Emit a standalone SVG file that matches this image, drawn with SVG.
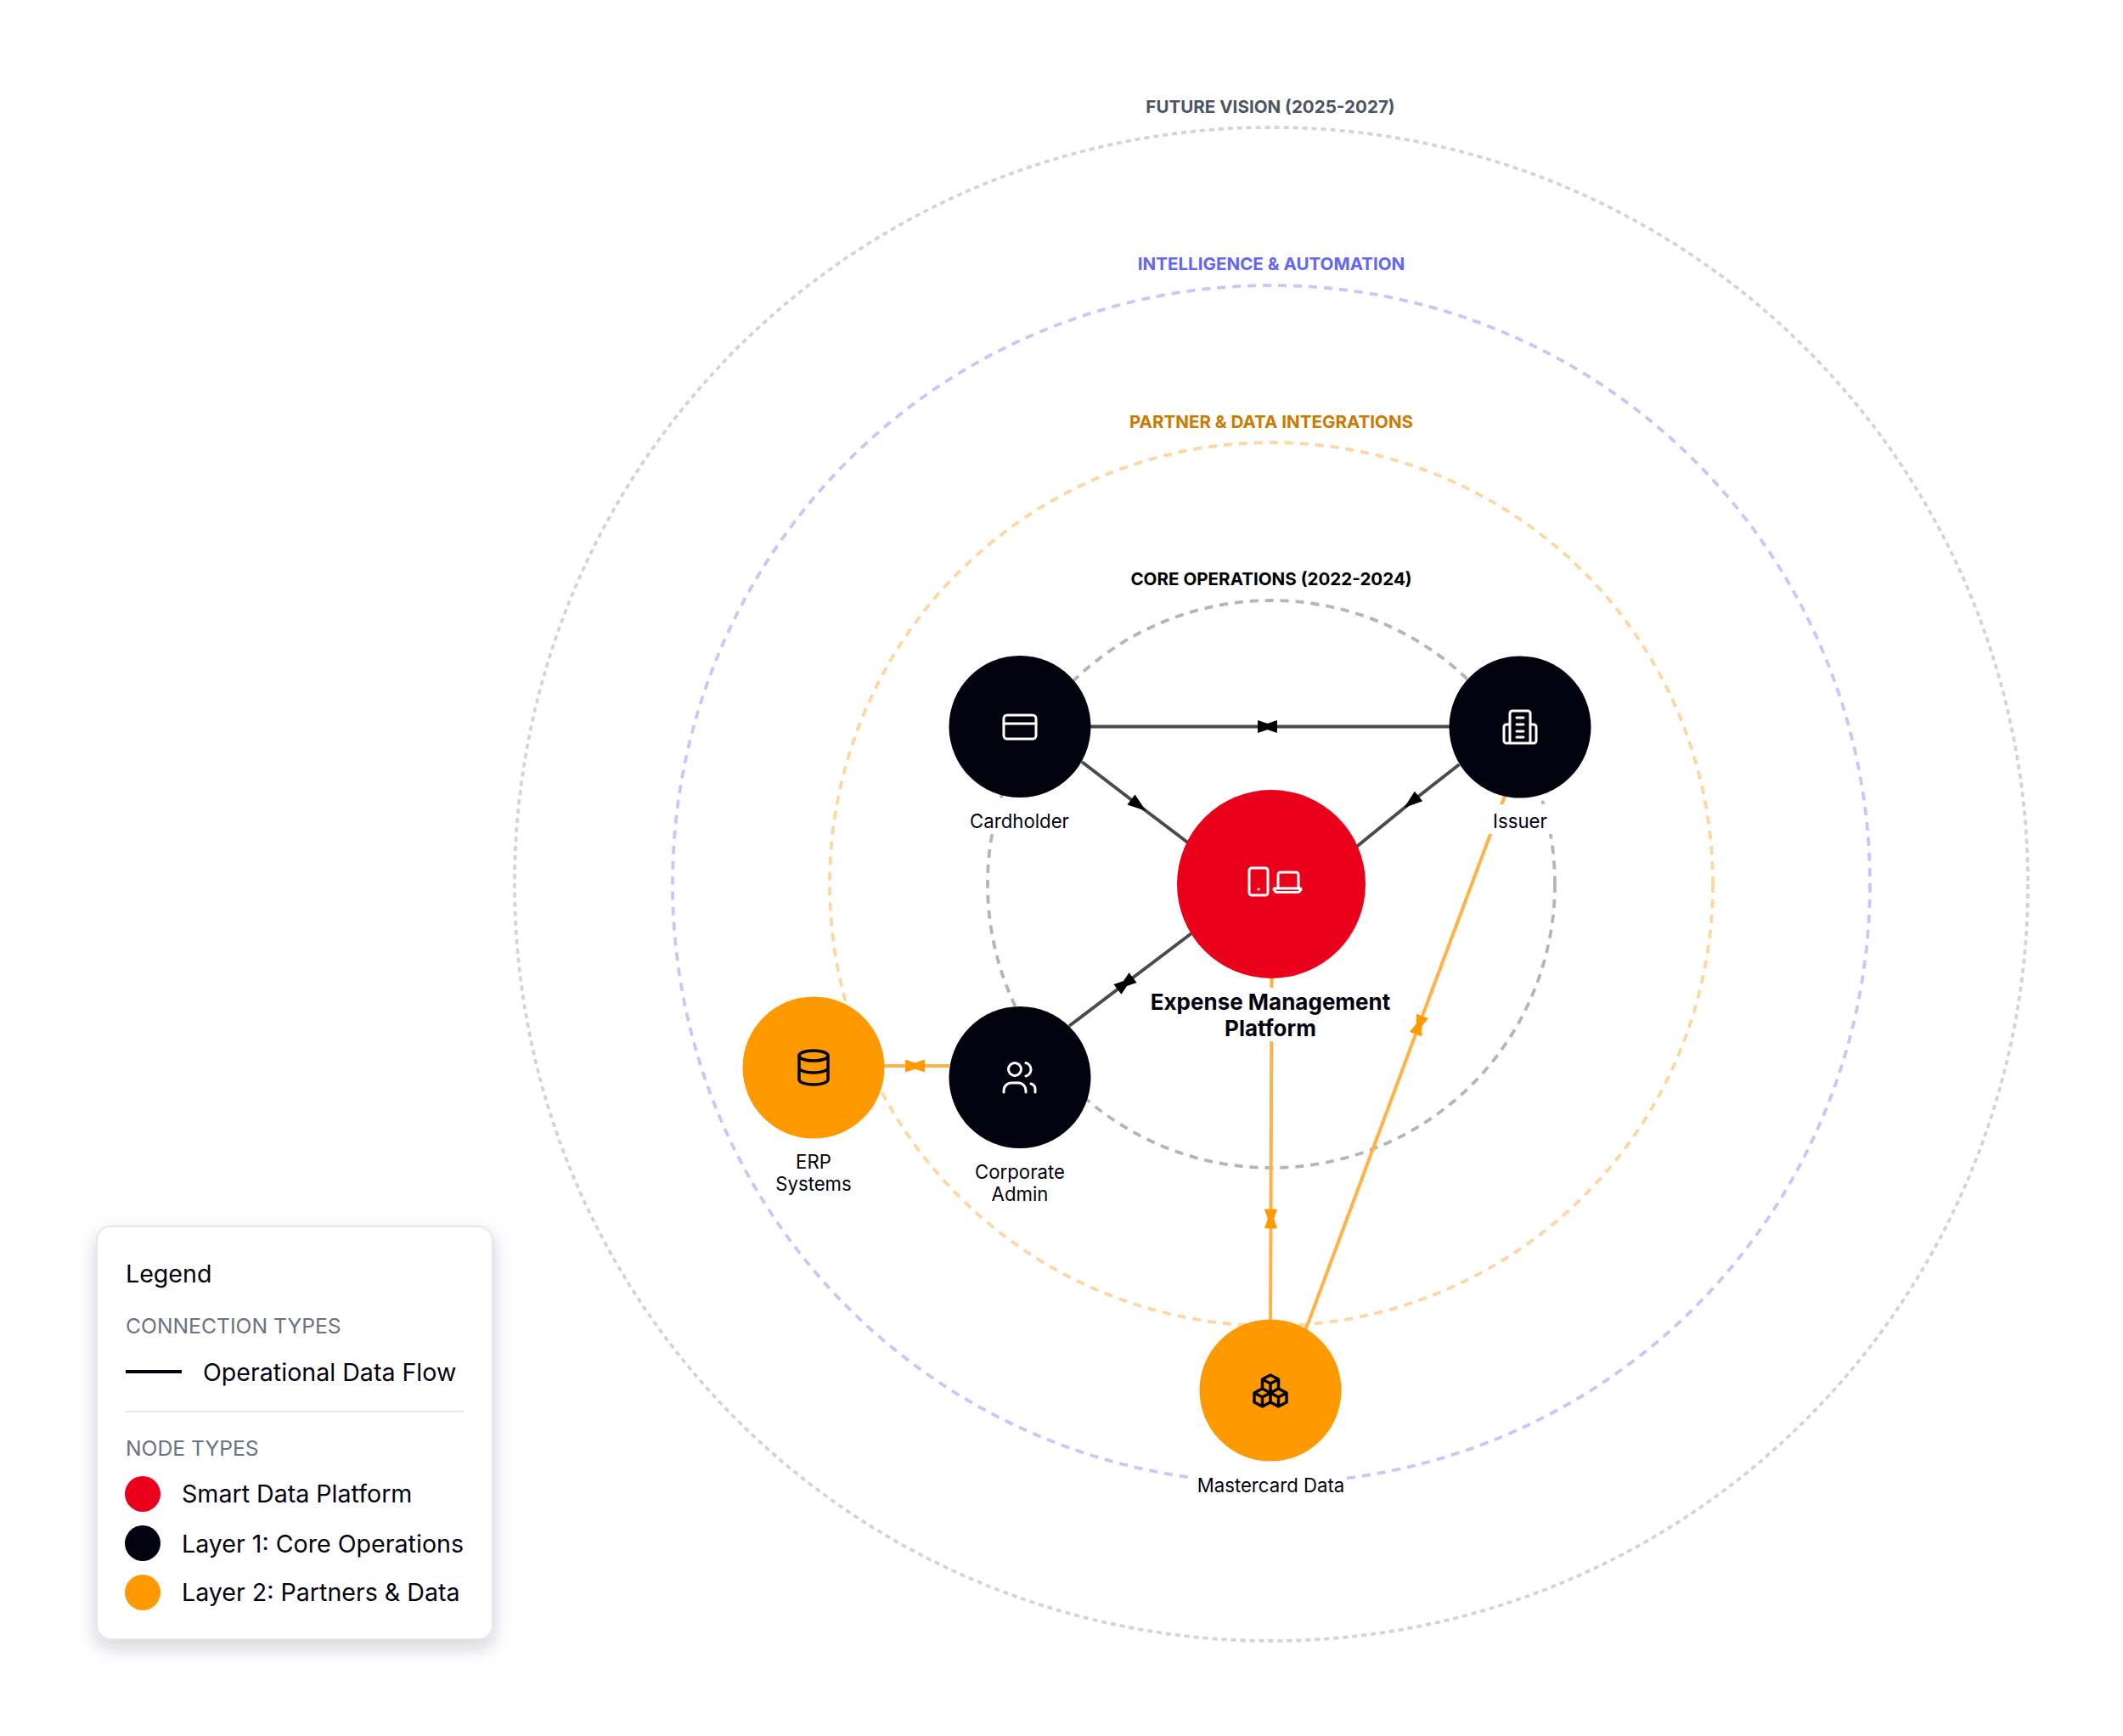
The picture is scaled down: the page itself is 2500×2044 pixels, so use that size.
<svg xmlns="http://www.w3.org/2000/svg" width="2500" height="2044" viewBox="0 0 2500 2044">
<style>
text{font-family:Inter,"Liberation Sans",sans-serif;fill:#02020f}
.ring{fill:none;stroke-width:3.800}
.rl{font-size:20.600px;font-weight:700;text-anchor:middle}
.nl{font-size:22.200px;text-anchor:middle}
.cl{font-size:26px;font-weight:700;text-anchor:middle}
.bg{fill:#fff}
.dk{fill:#02020f}.rd{fill:#eb001b}.or{fill:#ff9900}
.ln{fill:none;stroke-width:4}
.g{stroke:#4a4a4f}.o{stroke:#ffb347}
.iw{fill:none;stroke:#fff;stroke-width:3;stroke-linecap:round;stroke-linejoin:round}
.ik{fill:none;stroke:#02020f;stroke-width:3.500;stroke-linecap:round;stroke-linejoin:round}
.lt{font-size:28.600px}.lh{font-size:24.700px;fill:#6b7280}
</style>
<defs>
<filter id="sh" x="-15%" y="-15%" width="130%" height="130%"><feDropShadow dx="0" dy="9" stdDeviation="10" flood-color="#1e2340" flood-opacity="0.2"/></filter>
<marker id="ad" markerUnits="userSpaceOnUse" markerWidth="26" markerHeight="20" refX="2" refY="10" orient="auto"><path d="M2 2.500 24 10 2 17.500Z" fill="#000"/></marker>
<marker id="bd" markerUnits="userSpaceOnUse" markerWidth="26" markerHeight="20" refX="13" refY="10" orient="auto"><path d="M1.600 2.500 23.600 10 1.600 17.500ZM24.400 2.500 24.400 17.500 2.400 10Z" fill="#000"/></marker>
<marker id="bo" markerUnits="userSpaceOnUse" markerWidth="26" markerHeight="20" refX="13" refY="10" orient="auto"><path d="M1.600 2.500 23.600 10 1.600 17.500ZM24.400 2.500 24.400 17.500 2.400 10Z" fill="#ff9900"/></marker>
</defs>
<rect width="2500" height="2044" fill="#fff"/>
<g id="rings">
<circle class="ring" cx="1497" cy="1041" r="891" stroke="#d1d5db" stroke-dasharray="6 5"/>
<circle class="ring" cx="1497" cy="1041" r="705" stroke="#c7c7fa" stroke-dasharray="10 8"/>
<circle class="ring" cx="1497" cy="1041" r="520" stroke="#fed7a0" stroke-dasharray="10 8"/>
<circle class="ring" cx="1497" cy="1041" r="334" stroke="#b4b4ba" stroke-dasharray="10 8"/>
<text class="rl" x="1496" y="133" style="fill:#4b5563">FUTURE VISION (2025-2027)</text>
<text class="rl" x="1497" y="318" style="fill:#6366f1">INTELLIGENCE &amp; AUTOMATION</text>
<text class="rl" x="1497" y="504" style="fill:#cc7a00">PARTNER &amp; DATA INTEGRATIONS</text>
<text class="rl" x="1497" y="689" style="fill:#000">CORE OPERATIONS (2022-2024)</text>
</g>
<g id="connectors">
<polyline class="ln g" points="1284,855.500 1492.500,855.500 1707,855.500" marker-mid="url(#bd)"/>
<polyline class="ln g" points="1274,897 1332,941.500 1404,996" marker-mid="url(#ad)"/>
<polyline class="ln g" points="1718.500,900 1670.500,937.500 1590,1003" marker-mid="url(#ad)"/>
<polyline class="ln g" points="1403,1099 1325,1158 1259,1208" marker-mid="url(#bd)"/>
<polyline class="ln o" points="1041,1255 1077.500,1255 1118,1255" marker-mid="url(#bo)"/>
<polyline class="ln o" points="1497.500,1150 1496.500,1435 1496,1556" marker-mid="url(#bo)"/>
<polyline class="ln o" points="1772,937 1671,1207 1537,1567" marker-mid="url(#bo)"/>
</g>
<g id="node-platform">
<circle class="rd" cx="1497" cy="1041" r="111"/>
<g class="iw"><rect x="1471" y="1022" width="22" height="32" rx="3"/><path d="M1482 1047h.1"/><path d="M1505 1045v-15a3 3 0 0 1 3-3h18a3 3 0 0 1 3 3v15M1501 1046h30a1 1 0 0 1 0 2 3 3 0 0 1-3 2.500h-24a3 3 0 0 1-3-2.500 1 1 0 0 1 0-2Z"/></g>
<rect class="bg" x="1352" y="1163" width="290" height="63"/>
<text class="cl" x="1496" y="1189">Expense Management</text>
<text class="cl" x="1496" y="1220">Platform</text>
</g>
<g id="node-cardholder">
<circle class="dk" cx="1201" cy="855.500" r="83.500"/>
<g class="iw"><rect x="1182" y="842" width="38" height="28" rx="4"/><path d="M1182 852h38"/></g>
<rect class="bg" x="1137" y="947" width="128" height="35"/>
<text class="nl" x="1200.500" y="974.500">Cardholder</text>
</g>
<g id="node-issuer">
<circle class="dk" cx="1790" cy="856" r="83.500"/>
<g class="iw"><path d="M1778 875v-35a3 3 0 0 1 3-3h18a3 3 0 0 1 3 3v35M1778 853h-4a3 3 0 0 0-3 3v16a3 3 0 0 0 3 3h32a3 3 0 0 0 3-3v-16a3 3 0 0 0-3-3h-4M1786 845h8M1786 853h8M1786 861h8M1786 868h8"/></g>
<rect class="bg" x="1752" y="947" width="76" height="35"/>
<text class="nl" x="1790" y="974.500">Issuer</text>
</g>
<g id="node-admin">
<circle class="dk" cx="1201" cy="1268.500" r="83.500"/>
<g class="iw"><circle cx="1195" cy="1259" r="7.500"/><path d="M1208 1251.500a8 8 0 0 1 0 15.500M1182 1286v-2a9 9 0 0 1 9-9h9a9 9 0 0 1 8 9v2M1214 1276a7 7 0 0 1 5 7v3"/></g>
<rect class="bg" x="1145" y="1365" width="112" height="60"/>
<text class="nl" x="1201" y="1388">Corporate</text>
<text class="nl" x="1201" y="1414">Admin</text>
</g>
<g id="node-erp">
<circle class="or" cx="958" cy="1257" r="83.500"/>
<g class="ik"><ellipse cx="958" cy="1243" rx="17" ry="6"/><path d="M941 1243v28c0 3.500 8 6 17 6s17-2.500 17-6v-28M941 1257c0 3.500 8 6 17 6s17-2.500 17-6"/></g>
<rect class="bg" x="910" y="1353" width="96" height="60"/>
<text class="nl" x="958" y="1376">ERP</text>
<text class="nl" x="958" y="1402">Systems</text>
</g>
<g id="node-mastercard">
<circle class="or" cx="1496" cy="1637" r="83.500"/>
<g class="ik"><path d="M1496 1619l9.500 5v11l-9.500 5-9.500-5v-11ZM1486.500 1624l9.500 5 9.500-5M1496 1629v11M1486.500 1635l9.500 5v11l-9.500 5-9.500-5v-11ZM1477 1640l9.500 5 9.500-5M1486.500 1645v11M1505.500 1635l9.500 5v11l-9.500 5-9.500-5M1496 1640l9.500 5 9.500-5M1505.500 1645v11"/></g>
<rect class="bg" x="1400" y="1730" width="186" height="36"/>
<text class="nl" x="1496.500" y="1756.500">Mastercard Data</text>
</g>
<g id="legend">
<rect x="114" y="1444" width="466" height="486" rx="16" fill="#fff" stroke="#e5e7eb" stroke-width="2" filter="url(#sh)"/>
<text class="lt" x="148" y="1510">Legend</text>
<text class="lh" x="148" y="1570">CONNECTION TYPES</text>
<path d="M148 1615h66" stroke="#02020f" stroke-width="4"/>
<text class="lt" x="239" y="1625.500">Operational Data Flow</text>
<path d="M148 1662h398" stroke="#e5e7eb" stroke-width="2"/>
<text class="lh" x="148" y="1713.500">NODE TYPES</text>
<circle class="rd" cx="168" cy="1759" r="21"/>
<text class="lt" x="214" y="1769">Smart Data Platform</text>
<circle class="dk" cx="168" cy="1817" r="21"/>
<text class="lt" x="214" y="1827.500">Layer 1: Core Operations</text>
<circle class="or" cx="168" cy="1875" r="21"/>
<text class="lt" x="214" y="1885">Layer 2: Partners &amp; Data</text>
</g>
</svg>
